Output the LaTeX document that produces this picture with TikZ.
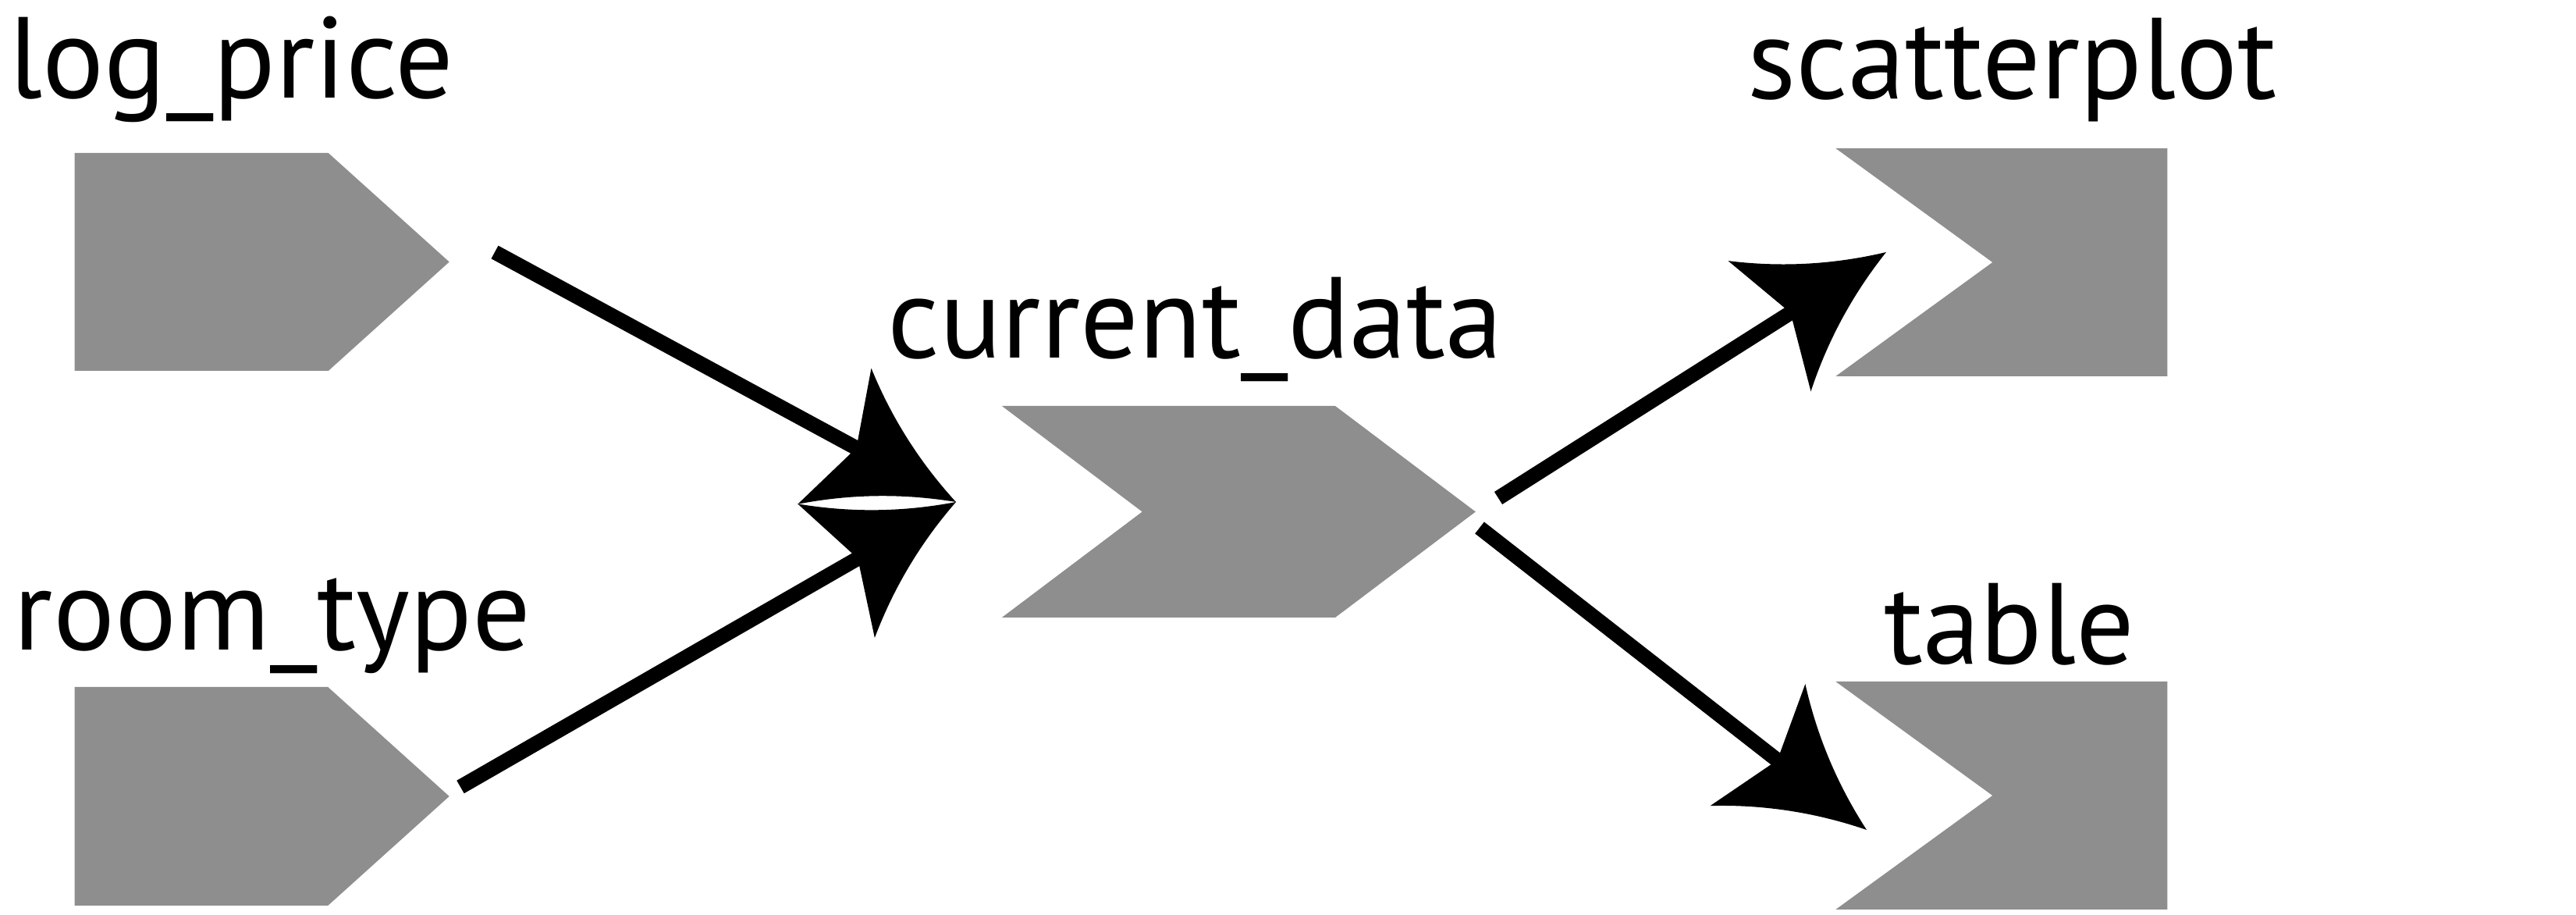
\documentclass[tikz,border=0pt]{standalone}
\usepackage{fontspec}
\setmainfont{PT Sans}
\usetikzlibrary{arrows.meta,shapes.symbols}
\definecolor{boxgray}{RGB}{142,142,142}

\pgfdeclarearrow{
  name = Fin,
  parameters = {\the\pgfarrowlength,\the\pgfarrowwidth},
  setup code = {
    \pgfarrowssettipend{0pt}
    \pgfarrowssetlineend{-.75\pgfarrowlength}
    \pgfarrowssetvisualbackend{-\pgfarrowlength}
    \pgfarrowssetbackend{-\pgfarrowlength}
    \pgfarrowssavethe\pgfarrowlength
    \pgfarrowssavethe\pgfarrowwidth
  },
  drawing code = {
    \pgfpathmoveto{\pgfqpoint{0pt}{0pt}}
    \pgfpathcurveto{\pgfqpoint{-.367\pgfarrowlength}{.1135\pgfarrowwidth}}
                   {\pgfqpoint{-.7\pgfarrowlength}{.2795\pgfarrowwidth}}
                   {\pgfqpoint{-\pgfarrowlength}{.5\pgfarrowwidth}}
    \pgfpathlineto{\pgfqpoint{-.82\pgfarrowlength}{0pt}}
    \pgfpathlineto{\pgfqpoint{-\pgfarrowlength}{-.5\pgfarrowwidth}}
    \pgfpathcurveto{\pgfqpoint{-.7\pgfarrowlength}{-.2795\pgfarrowwidth}}
                   {\pgfqpoint{-.367\pgfarrowlength}{-.1135\pgfarrowwidth}}
                   {\pgfqpoint{0pt}{0pt}}
    \pgfpathclose
    \pgfusepathqfill
  },
  defaults = {length=1cm, width=1cm}
}

\tikzset{
  objbox/.style={signal, fill=boxgray, draw=none, inner sep=0pt},
  lbl/.style={font=\fontsize{42}{50}\selectfont, inner sep=0pt, anchor=base},
  flow/.style={line width=0.19cm, -{Fin[length=1.77cm,width=1.98cm]}}
}

\begin{document}
\begin{tikzpicture}
\useasboundingbox (0,0) rectangle (33.01,11.72);

\node[objbox, signal to=east, signal pointer angle=84, minimum width=4.8cm, minimum height=2.79cm, anchor=west] (logprice) at (0.95,8.365) {};
\node[objbox, signal to=east, signal pointer angle=84, minimum width=4.8cm, minimum height=2.8cm, anchor=west] (roomtype) at (0.95,1.52) {};
\node[objbox, signal from=west, signal to=east, signal pointer angle=74, minimum width=6.07cm, minimum height=2.71cm, anchor=east] (cdata) at (18.92,5.165) {};
\node[objbox, signal from=west, signal to=nowhere, signal pointer angle=72, minimum width=4.25cm, minimum height=2.92cm, anchor=east] (scatter) at (27.78,8.36) {};
\node[objbox, signal from=west, signal to=nowhere, signal pointer angle=72, minimum width=4.25cm, minimum height=2.92cm, anchor=east] (table) at (27.78,1.53) {};

\node[lbl] (logpriceLab) at (2.965,10.464) {log\_price};
\node[lbl] (roomtypeLab) at (3.49,3.39) {room\_type};
\node[lbl] (cdataLab) at (15.32,7.13) {current\_data};
\node[lbl] (scatterLab) at (25.785,10.45) {scatterplot};
\node[lbl] (tableLab) at (25.75,3.215) {table};

\coordinate (lpOut) at (6.34,8.49);
\coordinate (rtOut) at (5.90,1.64);
\coordinate (cdIn) at (12.25,5.29);
\coordinate (cdOutA) at (19.20,5.34);
\coordinate (cdOutB) at (18.96,4.96);
\coordinate (spIn) at (24.17,8.49);
\coordinate (tbIn) at (23.92,1.09);

\draw[flow] (lpOut) -- (cdIn);
\draw[flow] (rtOut) -- (cdIn);
\draw[flow] (cdOutA) -- (spIn);
\draw[flow] (cdOutB) -- (tbIn);
\end{tikzpicture}
\end{document}
